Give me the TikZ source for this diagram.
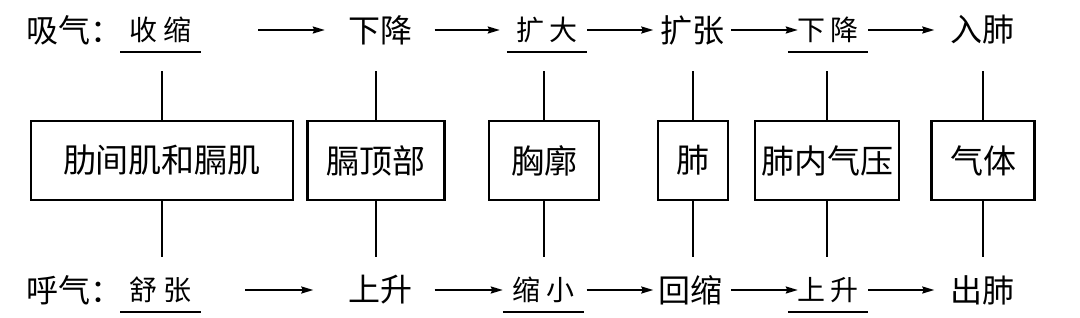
\documentclass[tikz,border=0pt]{standalone}
\usepackage{fontspec}
\setmainfont{Noto Sans CJK SC}
\usetikzlibrary{arrows.meta}

\begin{document}
\begin{tikzpicture}[x=1pt, y=-1pt, >={Stealth[length=12pt, width=7pt, inset=1.5pt]},
    word/.style={inner sep=0pt, font=\fontsize{32}{36}\selectfont},
    blank/.style={inner sep=0pt, minimum width=80pt, minimum height=44pt, font=\fontsize{28}{31}\selectfont},
    part/.style={draw, line width=2.6pt, inner sep=0pt, minimum height=79pt, font=\fontsize{33}{36}\selectfont},
    link/.style={line width=1.9pt},
    uline/.style={line width=2.5pt},
    flow/.style={->, line width=1.9pt}
  ]
  \useasboundingbox (0,0) rectangle (1080,317);

  % middle row: the parts
  \node[part, minimum width=262pt] (muscle) at (162, 160.5) {肋间肌和膈肌};
  \node[part, minimum width=137pt] (dome) at (376, 160.5) {膈顶部};
  \node[part, minimum width=110pt] (chest) at (544, 160.5) {胸廓};
  \node[part, minimum width=70pt] (lung) at (693, 160.5) {肺};
  \node[part, minimum width=144pt] (press) at (827, 160.5) {肺内气压};
  \node[part, minimum width=103pt] (gas) at (983, 160.5) {气体};

  % inhaling
  \node[word, anchor=west] (in0) at (26, 30) {吸气：};
  \node[blank] (in1) at (160.5, 30) {收\hspace{6pt}缩};
  \node[word] (in2) at (380, 30) {下降};
  \node[blank] (in3) at (547, 30) {扩\hspace{6pt}大};
  \node[word] (in4) at (692, 30) {扩张};
  \node[blank] (in5) at (828, 30) {下\hspace{6pt}降};
  \node[word] (in6) at (982.5, 30) {入肺};

  % exhaling
  \node[word, anchor=west] (ex0) at (26, 290) {呼气：};
  \node[blank] (ex1) at (160.5, 290) {舒\hspace{6pt}张};
  \node[word] (ex2) at (380, 290) {上升};
  \node[blank, minimum width=81pt] (ex3) at (543.5, 290) {缩\hspace{6pt}小};
  \node[word] (ex4) at (690.5, 290) {回缩};
  \node[blank] (ex5) at (828, 290) {上\hspace{6pt}升};
  \node[word] (ex6) at (982.5, 290) {出肺};

  \coordinate (up) at (0, 70.5);
  \coordinate (dn) at (0, 256.5);

  \draw[uline] (in1.south west) -- (in1.south east);
  \draw[uline] (in3.south west) -- (in3.south east);
  \draw[uline] (in5.south west) -- (in5.south east);
  \draw[uline] (ex1.south west) -- (ex1.south east);
  \draw[uline] (ex3.south west) -- (ex3.south east);
  \draw[uline] (ex5.south west) -- (ex5.south east);

  \draw[link] (muscle.north) -- (muscle.north |- up);
  \draw[link] (dome.north) -- (dome.north |- up);
  \draw[link] (chest.north) -- (chest.north |- up);
  \draw[link] (lung.north) -- (lung.north |- up);
  \draw[link] (press.north) -- (press.north |- up);
  \draw[link] (gas.north) -- (gas.north |- up);
  \draw[link] (muscle.south) -- (muscle.south |- dn);
  \draw[link] (dome.south) -- (dome.south |- dn);
  \draw[link] (chest.south) -- (chest.south |- dn);
  \draw[link] (lung.south) -- (lung.south |- dn);
  \draw[link] (press.south) -- (press.south |- dn);
  \draw[link] (gas.south) -- (gas.south |- dn);

  \draw[flow, shorten <=57.5pt, shorten >=23pt] (in1.east) -- (in2.west);
  \draw[flow, shorten <=22.5pt, shorten >=7pt] (in2.east) -- (in3.west);
  \draw[flow, shorten >=6.5pt] (in3.east) -- (in4.west);
  \draw[flow, shorten <=7pt, shorten >=-10pt] (in4.east) -- (in5.west);
  \draw[flow, shorten >=16pt] (in5.east) -- (in6.west);

  \draw[flow, shorten <=44.5pt, shorten >=34.5pt] (ex1.east) -- (ex2.west);
  \draw[flow, shorten <=22.5pt] (ex2.east) -- (ex3.west);
  \draw[flow, shorten <=2.5pt, shorten >=5pt] (ex3.east) -- (ex4.west);
  \draw[flow, shorten <=8.5pt, shorten >=-10pt] (ex4.east) -- (ex5.west);
  \draw[flow, shorten >=16pt] (ex5.east) -- (ex6.west);
\end{tikzpicture}
\end{document}
